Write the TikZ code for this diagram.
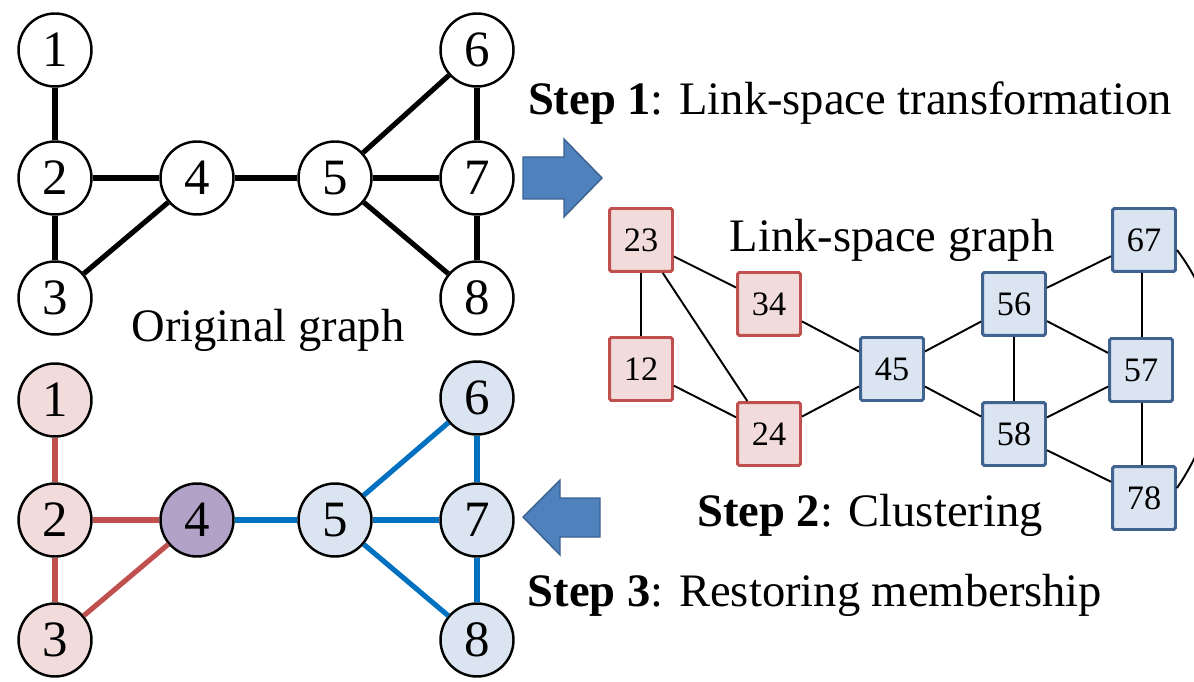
\documentclass[tikz,border=0pt]{standalone}
\usepackage{fontspec}
\setmainfont{Liberation Serif}
\definecolor{pinkfill}{HTML}{F2DCDB}
\definecolor{bluefill}{HTML}{DBE5F1}
\definecolor{purplefill}{HTML}{B3A2C7}
\definecolor{redline}{HTML}{C0504D}
\definecolor{blueline}{HTML}{0070C0}
\definecolor{boxblue}{HTML}{41638F}
\definecolor{arrowfill}{HTML}{4F81BD}
\definecolor{arrowdraw}{HTML}{3A6190}
\tikzset{
  vtx/.style={circle, draw=black, line width=1.4pt, minimum size=1.46cm, inner sep=0pt,
    font=\fontsize{29}{29}\selectfont},
  vred/.style={vtx, fill=pinkfill},
  vblue/.style={vtx, fill=bluefill},
  vpurple/.style={vtx, fill=purplefill},
  lbox/.style={rectangle, line width=1.7pt, minimum size=1.26cm, inner sep=0pt, rounded corners=1pt,
    font=\fontsize{19.5}{19.5}\selectfont},
  rbox/.style={lbox, draw=redline, fill=pinkfill},
  bbox/.style={lbox, draw=boxblue, fill=bluefill},
  thick edge/.style={line width=2.9pt, black},
  red edge/.style={line width=2.9pt, redline},
  blue edge/.style={line width=2.9pt, blueline},
  thin edge/.style={line width=1.1pt, black},
  caption/.style={font=\fontsize{26.5}{26.5}\selectfont, inner sep=0pt},
  bigarrow/.style={draw=arrowdraw, fill=arrowfill, line width=0.8pt, line join=miter}
}
\begin{document}
\begin{tikzpicture}[x=0.02cm, y=-0.02cm]
\clip (0,0) rectangle (1194,682);
\useasboundingbox (0,0) rectangle (1194,682);

% ---------- original graph (top) ----------
\node[vtx, fill=white] (a1) at (55,50) {1};
\node[vtx, fill=white] (a2) at (55,178) {2};
\node[vtx, fill=white] (a3) at (55,298) {3};
\node[vtx, fill=white] (a4) at (197,178) {4};
\node[vtx, fill=white] (a5) at (335,178) {5};
\node[vtx, fill=white] (a6) at (477,50) {6};
\node[vtx, fill=white] (a7) at (477,178) {7};
\node[vtx, fill=white] (a8) at (477,298) {8};
\draw[thick edge] (a1) -- (a2);
\draw[thick edge] (a2) -- (a3);
\draw[thick edge] (a2) -- (a4);
\draw[thick edge] (a3) -- (a4);
\draw[thick edge] (a4) -- (a5);
\draw[thick edge] (a5) -- (a6);
\draw[thick edge] (a5) -- (a7);
\draw[thick edge] (a5) -- (a8);
\draw[thick edge] (a6) -- (a7);
\draw[thick edge] (a7) -- (a8);

\node[caption] (orig) at (268,330) {Original graph};

% ---------- restored graph (bottom) ----------
\node[vred] (b1) at (55,400) {1};
\node[vred] (b2) at (55,520) {2};
\node[vred] (b3) at (55,640) {3};
\node[vpurple] (b4) at (197,520) {4};
\node[vblue] (b5) at (335,520) {5};
\node[vblue] (b6) at (477,398) {6};
\node[vblue] (b7) at (477,520) {7};
\node[vblue] (b8) at (477,640) {8};
\draw[red edge] (b1) -- (b2);
\draw[red edge] (b2) -- (b3);
\draw[red edge] (b2) -- (b4);
\draw[red edge] (b3) -- (b4);
\draw[blue edge] (b4) -- (b5);
\draw[blue edge] (b5) -- (b6);
\draw[blue edge] (b5) -- (b7);
\draw[blue edge] (b5) -- (b8);
\draw[blue edge] (b6) -- (b7);
\draw[blue edge] (b7) -- (b8);

% ---------- link-space graph ----------
\node[rbox] (l23) at (641,240) {23};
\node[rbox] (l34) at (769,304) {34};
\node[rbox] (l12) at (641,369) {12};
\node[rbox] (l24) at (769,434) {24};
\node[bbox] (l45) at (892,369) {45};
\node[bbox] (l56) at (1014,304) {56};
\node[bbox] (l58) at (1014,434) {58};
\node[bbox] (l67) at (1144,240) {67};
\node[bbox] (l57) at (1141,370) {57};
\node[bbox] (l78) at (1144,498) {78};
\draw[thin edge] (l23) -- (l12);
\draw[thin edge] (l23) -- (l34);
\draw[thin edge] (l23) -- (l24);
\draw[thin edge] (l12) -- (l24);
\draw[thin edge] (l34) -- (l45);
\draw[thin edge] (l24) -- (l45);
\draw[thin edge] (l45) -- (l56);
\draw[thin edge] (l45) -- (l58);
\draw[thin edge] (l56) -- (l58);
\draw[thin edge] (l56) -- (l67);
\draw[thin edge] (l56) -- (l57);
\draw[thin edge] (l58) -- (l57);
\draw[thin edge] (l58) -- (l78);
\draw[thin edge] ([xshift=-0.04cm]l67.south) -- ([xshift=0.02cm]l57.north);
\draw[thin edge] ([xshift=0.02cm]l57.south) -- ([xshift=-0.04cm]l78.north);
\draw[thin edge] ([yshift=-0.2cm]l67.east) .. controls (1230,320) and (1230,410) .. ([yshift=0.2cm]l78.east);

\node[caption] (lsg) at (892,240) {Link-space graph};

% ---------- steps and arrows ----------
\node[caption] (s1) at (850,103) {\textbf{Step 1}: Link-space transformation};
\node[caption] (s2) at (870,515) {\textbf{Step 2}: Clustering};
\node[caption] (s3) at (815,595) {\textbf{Step 3}: Restoring membership};

\draw[bigarrow] (523,157) -- (564,157) -- (564,139) -- (602,178) -- (564,217) -- (564,199) -- (523,199) -- cycle;
\draw[bigarrow] (600,498) -- (560,498) -- (560,480) -- (523,517) -- (560,555) -- (560,537) -- (600,537) -- cycle;
\end{tikzpicture}
\end{document}
